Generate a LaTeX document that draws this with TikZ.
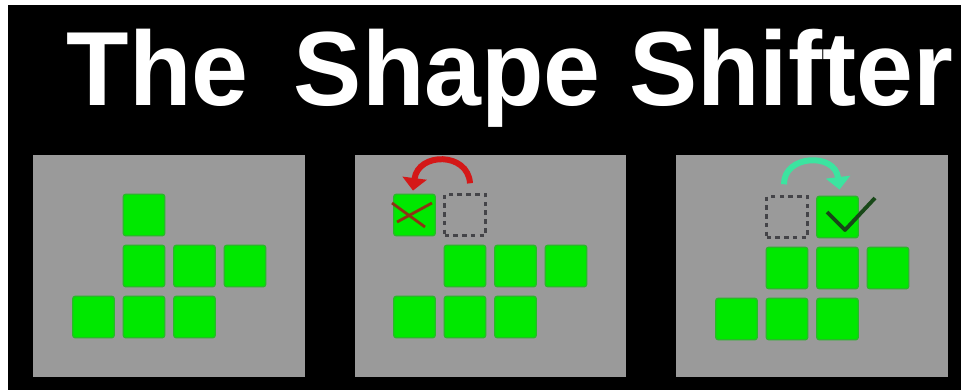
\documentclass[tikz,border=0pt]{standalone}
\usepackage{fontspec}
\usepackage{graphicx}
\setmainfont{Liberation Sans}
\usetikzlibrary{arrows.meta}
\definecolor{panelGray}{RGB}{154,154,154}
\definecolor{blockGreen}{RGB}{0,232,0}
\definecolor{blockEdge}{RGB}{40,185,40}
\definecolor{arrowRed}{RGB}{212,24,24}
\definecolor{arrowMint}{RGB}{60,228,160}
\definecolor{crossBrown}{RGB}{140,52,20}
\definecolor{checkGreen}{RGB}{24,72,24}
\definecolor{ghostGray}{RGB}{68,68,72}

\begin{document}
\begin{tikzpicture}[x=0.02cm, y=-0.02cm,
  block/.style={draw=blockEdge,line width=0.8pt,fill=blockGreen,rounded corners=1.5pt,minimum size=0.83cm,inner sep=0pt},
  ghost/.style={draw=ghostGray,line width=1.4pt,dash pattern=on 2.6pt off 2.4pt,minimum size=0.82cm,inner sep=0pt},
  panel/.style={fill=panelGray,minimum width=5.44cm,minimum height=4.44cm,inner sep=0pt},
  shift arrow/.style={line width=3.4pt,-{Triangle[length=2.5mm,width=4.8mm]}}]
\useasboundingbox (0,0) rectangle (961,390);
\fill[white] (0,0) rectangle (961,390);
\fill[black] (8,5) rectangle (961,390);

\node[text=white,font=\bfseries\fontsize{60}{60}\selectfont,anchor=base] (title) at (510,105) {\scalebox{0.97}[1]{The\hspace{0.35cm} Shape Shifter}};

\node[panel] (p1) at (169,266) {};
\node[panel] (p2) at (490.5,266) {};
\node[panel] (p3) at (812,266) {};

% the six blocks that stay put
\foreach \p/\ox/\oy in {1/0/0, 2/321/0, 3/643/2} {
  \foreach \c/\r in {1/1, 2/1, 3/1, 0/2, 1/2, 2/2}
    \node[block] (b\p-\c\r) at (93.5+50.5*\c+\ox, 215+51*\r+\oy) {};
}

% top block
\node[block] (top1) at (144,215) {};
\node[block] (m2) at (414.5,215) {};
\node[ghost] (g2) at (465,215) {};
\node[ghost] (g3) at (787,217) {};
\node[block] (m3) at (837.5,217) {};

% wrong move
\draw[shift arrow,arrowRed] ([shift={(5,-10)}]g2.north) .. controls +(-2,-31.5) and +(5,-38.5) .. ([shift={(-1.5,-3)}]m2.north);
\draw[crossBrown,line width=1.6pt] ([shift={(-22.5,-12)}]m2.center) -- ([shift={(10.5,12)}]m2.center);
\draw[crossBrown,line width=1.6pt] ([shift={(-17.5,7)}]m2.center) -- ([shift={(17.5,-12)}]m2.center);

% right move
\draw[shift arrow,arrowMint] ([shift={(-3,-11)}]g3.north) .. controls +(-0.5,-29.5) and +(-4.5,-37.5) .. ([shift={(2,-6)}]m3.north);
\draw[checkGreen,line width=2.2pt,line join=round] ([shift={(-10.5,-5)}]m3.center) -- ([shift={(7.5,13)}]m3.center) -- ([shift={(37.5,-19)}]m3.center);
\end{tikzpicture}
\end{document}
